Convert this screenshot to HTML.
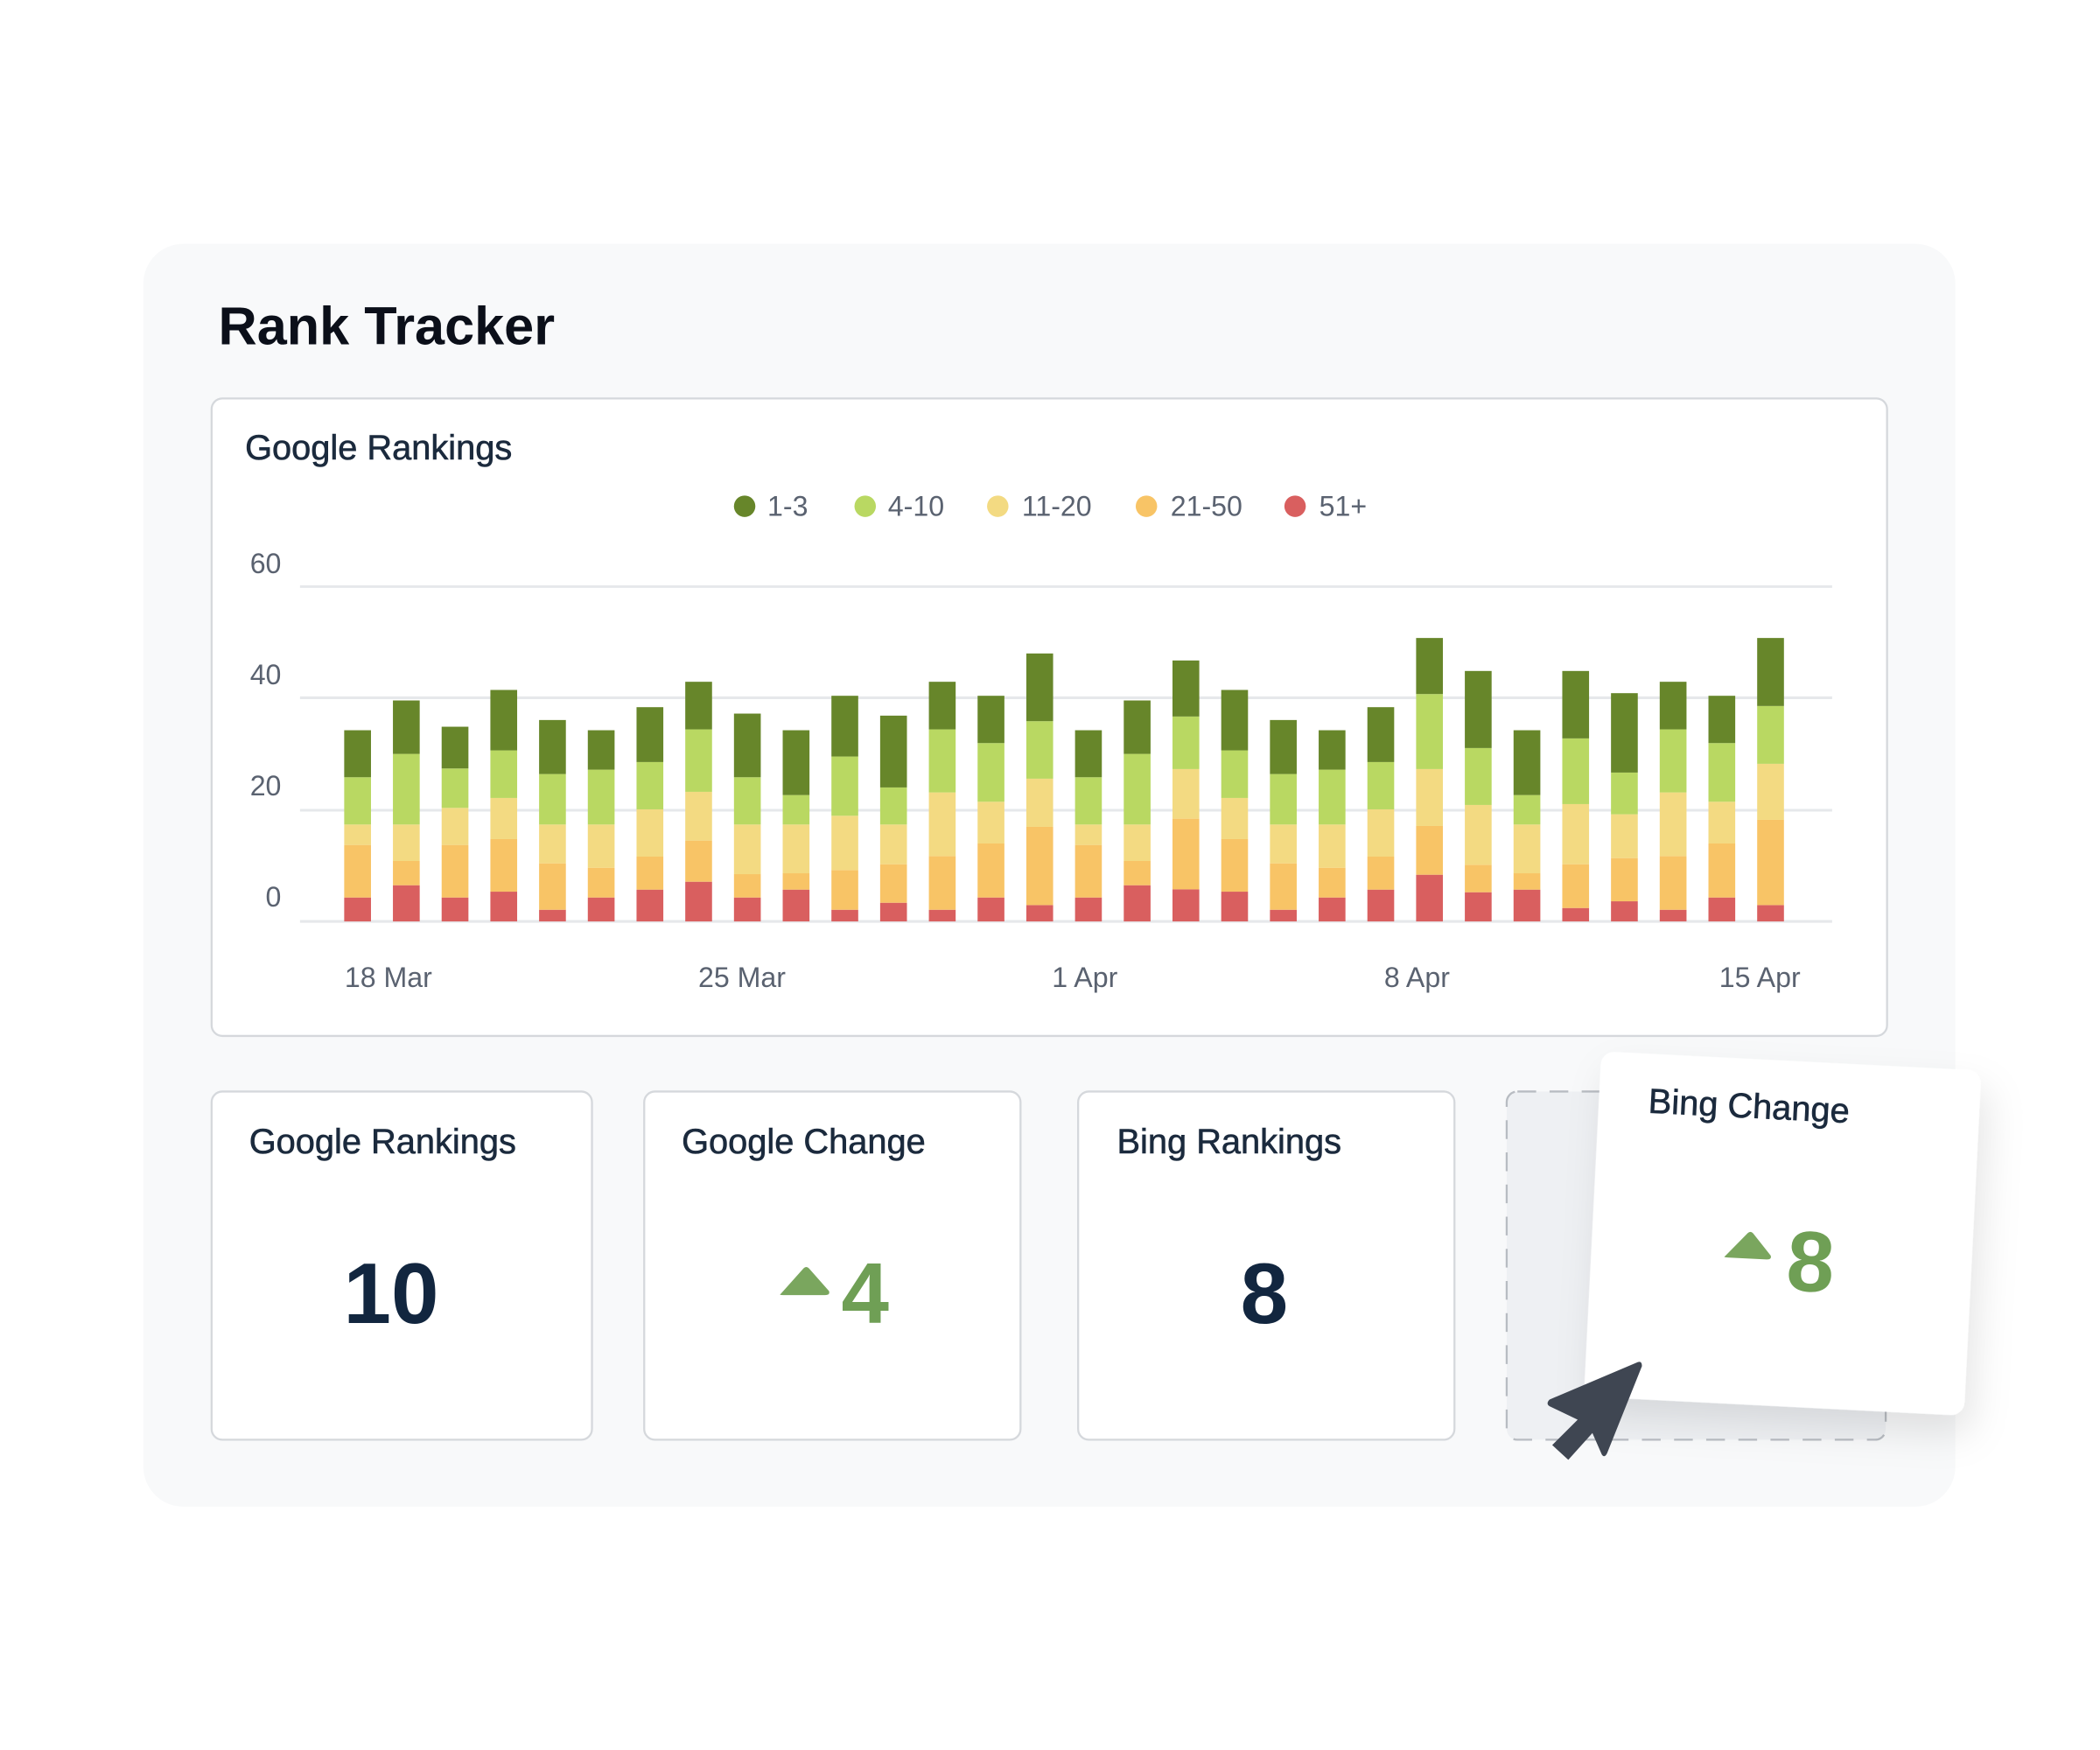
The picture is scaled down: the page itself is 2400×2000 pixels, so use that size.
<!DOCTYPE html>
<html><head><meta charset="utf-8"><style>
html,body{margin:0;padding:0;background:#fff;}
svg{display:block;}
text{font-family:"Liberation Sans",sans-serif;}
</style></head><body>
<svg id="s" width="2400" height="2000" viewBox="0 0 1568 1306.67" xmlns="http://www.w3.org/2000/svg">
<defs>
<filter id="sh" x="-30%" y="-30%" width="160%" height="160%"><feDropShadow dx="6" dy="14" stdDeviation="14" flood-color="#000" flood-opacity="0.10"/></filter>
</defs>
<rect width="1568" height="1307" fill="#fff"/>
<rect x="107" y="182" width="1353" height="943" rx="30" fill="#f8f9fa"/>
<text x="163" y="257" font-size="40" font-weight="bold" fill="#0b0f19">Rank Tracker</text>
<rect x="158" y="297.5" width="1251" height="476" rx="8" fill="#fff" stroke="#d5d8dc" stroke-width="1.5"/>
<text x="183" y="343" font-size="26" fill="#1b2a3d" stroke="#1b2a3d" stroke-width="0.4">Google Rankings</text>
<g font-size="21" fill="#5a6270">
<circle cx="556" cy="378" r="8" fill="#67862a"/><text x="573" y="385">1-3</text>
<circle cx="646" cy="378" r="8" fill="#b9d862"/><text x="663" y="385">4-10</text>
<circle cx="745" cy="378" r="8" fill="#f3da82"/><text x="763" y="385">11-20</text>
<circle cx="856" cy="378" r="8" fill="#f8c466"/><text x="874" y="385">21-50</text>
<circle cx="967" cy="378" r="8" fill="#d95f5f"/><text x="985" y="385">51+</text>
</g>
<g stroke="#e6e8eb" stroke-width="2">
<line x1="224" y1="438" x2="1368" y2="438"/><line x1="224" y1="521" x2="1368" y2="521"/>
<line x1="224" y1="605" x2="1368" y2="605"/><line x1="224" y1="688" x2="1368" y2="688"/>
</g>
<g font-size="21" fill="#5a6270" text-anchor="end">
<text x="210" y="428">60</text><text x="210" y="511">40</text><text x="210" y="594">20</text><text x="210" y="677">0</text>
</g>
<g font-size="21" fill="#5a6270" text-anchor="middle">
<text x="290" y="737">18 Mar</text><text x="554" y="737">25 Mar</text><text x="810" y="737">1 Apr</text><text x="1058" y="737">8 Apr</text><text x="1314" y="737">15 Apr</text>
</g>
<g id="bars" transform="matrix(1 0 0 0.21796 0 404.22)"></g>

<rect x="158" y="815" width="284" height="260" rx="8" fill="#fff" stroke="#d5d8dc" stroke-width="1.5"/>
<rect x="481" y="815" width="281" height="260" rx="8" fill="#fff" stroke="#d5d8dc" stroke-width="1.5"/>
<rect x="805" y="815" width="281" height="260" rx="8" fill="#fff" stroke="#d5d8dc" stroke-width="1.5"/>
<rect x="1125" y="815" width="283" height="260" rx="8" fill="#eef0f3" stroke="#b8bcc2" stroke-width="1.5" stroke-dasharray="14 10"/>
<g font-size="26" fill="#1b2a3d" stroke="#1b2a3d" stroke-width="0.4">
<text x="186" y="861">Google Rankings</text>
<text x="509" y="861">Google Change</text>
<text x="834" y="861">Bing Rankings</text>
</g>
<text x="292" y="988" font-size="64" font-weight="bold" fill="#12263f" text-anchor="middle">10</text>
<path d="M583 966 L600 947 Q602 945 604 947 L619 964 Q620 967 616 967 L586 967 Q581 967 583 966Z" fill="#7aa65e"/>
<text x="646" y="988" font-size="64" font-weight="bold" fill="#6f9f55" text-anchor="middle">4</text>
<text x="944" y="988" font-size="64" font-weight="bold" fill="#12263f" text-anchor="middle">8</text>

<g transform="rotate(2.9 1331 921)" filter="url(#sh)">
<rect x="1189" y="792" width="284" height="258" rx="10" fill="#fff"/>
</g>
<g transform="rotate(2.9 1331 921)">
<text x="1226" y="836" font-size="26" fill="#1b2a3d" stroke="#1b2a3d" stroke-width="0.4">Bing Change</text>
<path d="M1289 940 L1305 922 Q1307 920 1309 922 L1323 938 Q1324 941 1320 941 L1292 941 Q1287 941 1289 940Z" fill="#7aa65e"/>
<text x="1353" y="963" font-size="64" font-weight="bold" fill="#6f9f55" text-anchor="middle">8</text>
</g>
<path d="M1223 1017 L1157 1045 Q1154 1048 1157 1050 L1178 1060 L1159 1079 L1171 1090 L1189 1070 L1196 1086 Q1198 1089 1200 1085 L1226 1020 Q1226 1016 1223 1017Z" fill="#3f4652"/>
</svg>
<script>
var d=[[1220,1040,970,808,647],[1178,1095,970,728,545],[1220,1040,913,778,635],[1200,1020,879,716,509],[1262,1103,970,797,612],[1220,1118,970,782,647],[1193,1080,918,756,568],[1166,1025,858,644,481],[1220,1140,970,808,590],[1193,1137,970,869,647],[1262,1126,940,737,529],[1238,1106,970,843,597],[1262,1078,860,644,481],[1220,1035,892,691,529],[1246,978,813,616,384],[1220,1040,970,808,647],[1178,1095,970,728,545],[1192,950,780,600,408],[1200,1020,879,716,509],[1262,1103,970,797,612],[1220,1118,970,782,647],[1193,1080,918,756,568],[1142,975,780,523,331],[1202,1108,903,708,444],[1193,1137,970,869,647],[1256,1106,900,675,444],[1233,1085,935,792,520],[1262,1078,860,644,481],[1220,1035,892,691,529],[1246,954,762,564,331]];
var c=["#d95f5f","#f8c466","#f3da82","#b9d862","#67862a"];
var g=document.getElementById("bars"),h="";
d.forEach(function(b,i){var x=257+i*36.38,prev=1302;for(var k=0;k<5;k++){h+='<rect x="'+x.toFixed(2)+'" y="'+b[k]+'" width="20" height="'+(prev-b[k])+'" fill="'+c[k]+'"/>';prev=b[k];}});
g.innerHTML=h;
</script>
</body></html>
